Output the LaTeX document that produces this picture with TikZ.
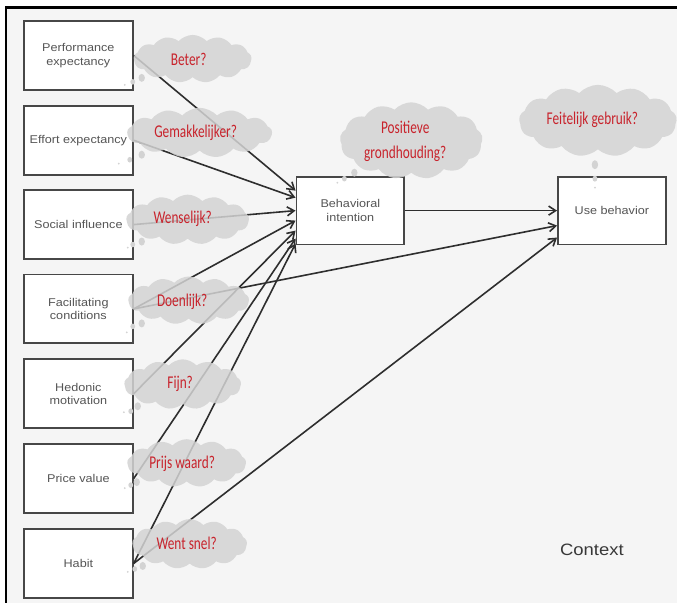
\documentclass[tikz,border=0pt]{standalone}
\usepackage{fontspec}
\usetikzlibrary{shapes.symbols,arrows.meta,calc}
\newfontfamily\boxfont[FakeStretch=1.12]{Liberation Sans}
\newfontfamily\qfont[FakeStretch=0.74]{Carlito}
\definecolor{bg}{HTML}{F5F5F5}
\definecolor{boxline}{HTML}{474747}
\definecolor{boxtext}{HTML}{555555}
\definecolor{cloudfill}{HTML}{D3D3D3}
\definecolor{qred}{HTML}{C8232C}
\definecolor{linkcol}{HTML}{2E2E2E}
\begin{document}
\begin{tikzpicture}[x=1pt,y=-1pt,
  factor/.style={draw=boxline, line width=1.8pt, fill=white, minimum width=109pt,
    minimum height=69pt, inner sep=0pt, align=center, text=boxtext,
    font=\boxfont\fontsize{11.3}{13.5}\selectfont},
  thought/.style={shape=cloud, cloud puffs=13, cloud puff arc=95, cloud ignores aspect,
    fill=cloudfill, fill opacity=0.85, draw=none, inner sep=0pt},
  puff/.style={fill=cloudfill, draw=none},
  question/.style={text=qred, font=\qfont\fontsize{18}{25}\selectfont, align=center, inner sep=0pt},
  link/.style={draw=linkcol, line width=1.6pt, -{Straight Barb[length=7pt,width=9pt]}}
]
% canvas and frame
\fill[white] (0,0) rectangle (678,604);
\fill[bg] (6,7) rectangle (678,604);
\draw[black, line width=2.5pt] (6,604) -- (6,7.5) -- (678,7.5);

% determinants
\node[factor] (pe) at (78.5,55.5)  {Performance\\expectancy};
\node[factor] (ee) at (78.5,140.5) {Effort expectancy};
\node[factor] (si) at (78.5,225)   {Social influence};
\node[factor] (fc) at (78.5,309.5) {Facilitating\\conditions};
\node[factor] (hm) at (78.5,394.5) {Hedonic\\motivation};
\node[factor] (pv) at (78.5,479.5) {Price value};
\node[factor] (hb) at (78.5,564.5) {Habit};

% outcomes
\node[factor, minimum width=108pt, minimum height=68pt] (bi) at (351,211) {Behavioral\\intention};
\node[factor, minimum width=108pt, minimum height=68pt] (ub) at (613,211) {Use behavior};

\node[text=black!78, font=\boxfont\fontsize{16.5}{20}\selectfont] (ctx) at (593,551) {Context};

% paths
\draw[link] (pe.east) -- ([yshift=20pt]bi.west);
\draw[link] (ee.east) -- ([yshift=13pt]bi.west);
\draw[link] (si.east) -- (bi.west);
\draw[link] (fc.east) -- ([yshift=-10pt]bi.west);
\draw[link] (hm.east) -- ([yshift=-20pt]bi.west);
\draw[link] (pv.east) -- ([yshift=-28pt]bi.west);
\draw[link] (hb.east) -- ([yshift=-33pt]bi.west);
\draw[link] (bi.east) -- (ub.west);
\draw[link] (fc.east) -- ([yshift=-15pt]ub.west);
\draw[link] (hb.east) -- ([yshift=-27pt]ub.west);

% thought clouds
\node[thought, minimum width=118pt, minimum height=48pt] (c1) at (193,59) {};
\node[thought, minimum width=145pt, minimum height=50pt] (c2) at (200,133) {};
\node[thought, minimum width=123pt, minimum height=50pt] (c3) at (188,220) {};
\node[thought, minimum width=121pt, minimum height=48pt] (c4) at (189,301) {};
\node[thought, minimum width=117pt, minimum height=50pt] (c5) at (183,385) {};
\node[thought, minimum width=119pt, minimum height=48pt] (c6) at (187,464) {};
\node[thought, minimum width=115pt, minimum height=50pt] (c7) at (190,545) {};
\node[thought, minimum width=143pt, minimum height=77pt] (c8) at (412,141) {};
\node[thought, minimum width=158pt, minimum height=72pt] (c9) at (599,121) {};

% small bubbles trailing each cloud
\foreach \x/\y in {142/78, 142/155, 142/242, 142/324, 138/407, 137/483, 143/567, 355/173}{
  \fill[puff] (\x,\y) ellipse [x radius=3.2pt, y radius=4pt];
}
\foreach \x/\y in {133/82, 130/160, 133/245, 133/327, 131/412, 131/486, 135/570, 345/179}{
  \fill[puff] (\x,\y) ellipse [x radius=2.4pt, y radius=2.8pt];
}
\foreach \x/\y in {125/85, 119/164, 128/248, 127/333, 124/413, 125/489, 128/573, 338/183, 596/188}{
  \fill[puff] (\x,\y) circle [radius=1pt];
}
\fill[puff] (596,165) ellipse [x radius=3.2pt, y radius=4.5pt];
\fill[puff] (596,179) ellipse [x radius=2.4pt, y radius=3pt];

% questions
\node[question] (q1) at (189,60)  {Beter?};
\node[question] (q2) at (196,133) {Gemakkelijker?};
\node[question] (q3) at (183,219) {Wenselijk?};
\node[question] (q4) at (182.5,302) {Doenlijk?};
\node[question] (q5) at (180.5,385) {Fijn?};
\node[question] (q6) at (182.5,465) {Prijs waard?};
\node[question] (q7) at (187,544) {Went snel?};
\node[question] (q8) at (406,142) {Positieve\\grondhouding?};
\node[question] (q9) at (593.5,120) {Feitelijk gebruik?};
\end{tikzpicture}
\end{document}
